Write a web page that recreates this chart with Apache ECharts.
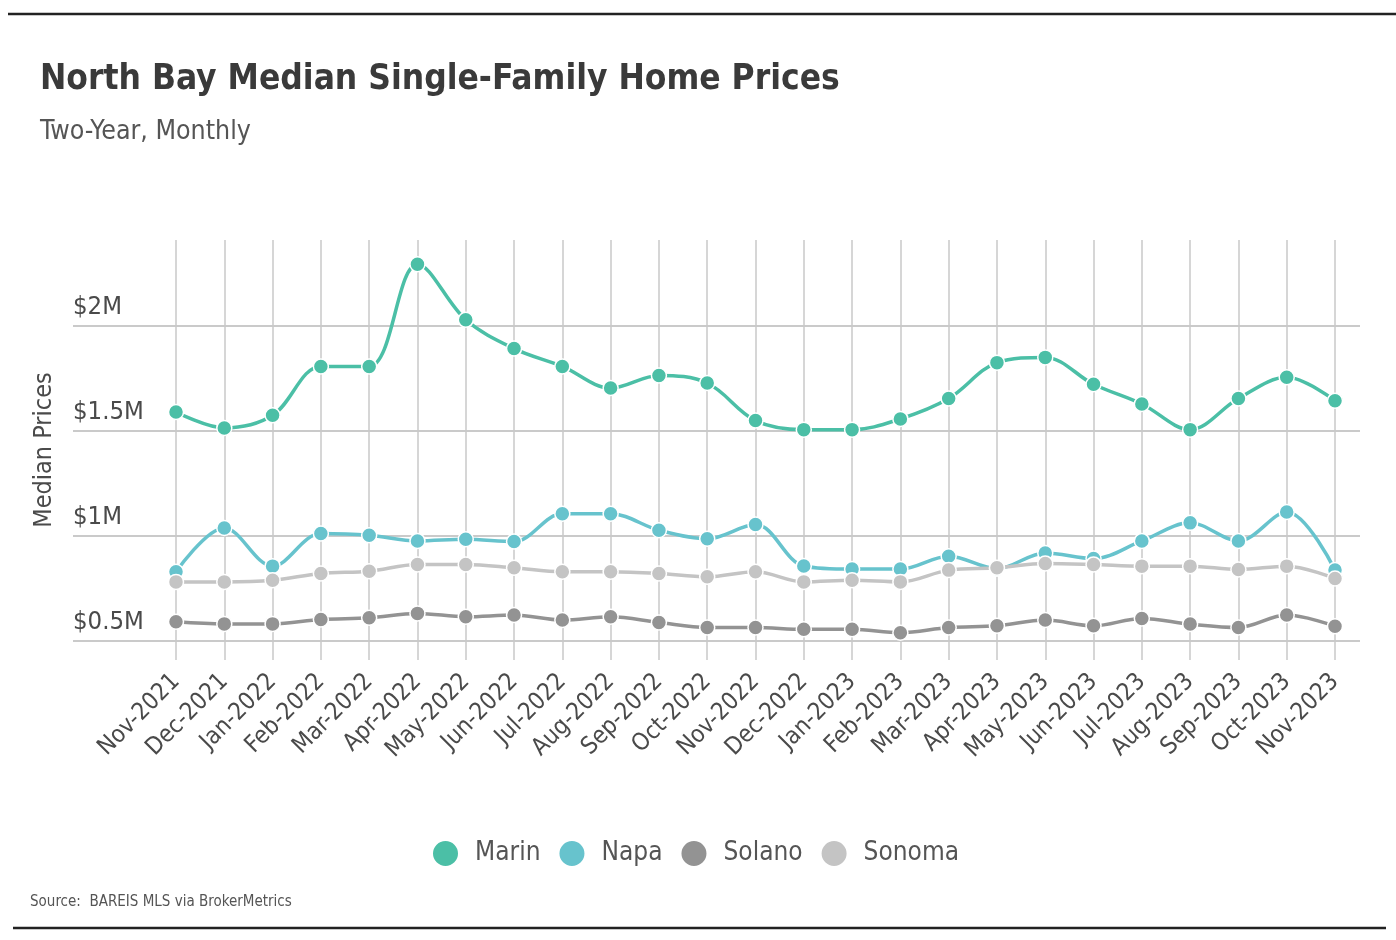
<!DOCTYPE html>
<html>
<head>
<meta charset="utf-8">
<script src="https://cdn.jsdelivr.net/npm/echarts@6/dist/echarts.min.js"></script>
<style>
html,body{margin:0;padding:0;background:#fff;}
#chart{width:1396px;height:940px;}
</style>
</head>
<body>
<div id="chart"></div>
<script>
const categories = ['Nov-2021','Dec-2021','Jan-2022','Feb-2022','Mar-2022','Apr-2022','May-2022','Jun-2022','Jul-2022','Aug-2022','Sep-2022','Oct-2022','Nov-2022','Dec-2022','Jan-2023','Feb-2023','Mar-2023','Apr-2023','May-2023','Jun-2023','Jul-2023','Aug-2023','Sep-2023','Oct-2023','Nov-2023'];
const marin  = [1591000,1515000,1575000,1808000,1808000,2295000,2030000,1893000,1808000,1705000,1765000,1729000,1550000,1507000,1507000,1558000,1655000,1826000,1851000,1723000,1629000,1507000,1655000,1756000,1645000];
const napa   = [830000,1039000,857000,1012000,1004000,977000,985000,974000,1106000,1106000,1028000,987000,1055000,858000,843000,843000,904000,845000,920000,893000,977000,1063000,977000,1115000,838000];
const solano = [592000,582000,582000,603000,611000,632000,616000,624000,600000,616000,589000,565000,565000,556000,556000,540000,565000,573000,600000,573000,608000,581000,565000,624000,571000];
const sonoma = [782000,782000,790000,822000,833000,865000,865000,849000,830000,830000,822000,806000,830000,782000,790000,782000,838000,849000,870000,865000,857000,857000,841000,857000,798000];
const seriesNames = ['Marin','Napa','Solano','Sonoma'];
const yTicks = [500000, 1000000, 1500000, 2000000];

const colors = ['#4bbfa6','#67c3cd','#939393','#c4c4c4'];
const FONT = '"DejaVu Sans Condensed", "Liberation Sans Narrow", sans-serif';

const chart = echarts.init(document.getElementById('chart'), null, {renderer:'canvas'});
const dataSets = [marin, napa, solano, sonoma];

const option = {
  backgroundColor: '#fff',
  animation: false,
  color: colors,
  title: [
    {
      text: 'North Bay Median Single-Family Home Prices',
      subtext: 'Two-Year, Monthly',
      left: 35, top: 57,
      itemGap: 22,
      textStyle: {fontFamily: FONT, fontSize: 35, fontWeight: 'bold', color: '#3a3a3a'},
      subtextStyle: {fontFamily: FONT, fontSize: 26.5, color: '#555'}
    },
    {
      text: 'Source:  BAREIS MLS via BrokerMetrics',
      left: 25, top: 890,
      textStyle: {fontFamily: FONT, fontSize: 15, fontWeight: 'normal', color: '#555'}
    }
  ],
  legend: {
    data: seriesNames,
    left: 426, top: 834,
    icon: 'circle',
    itemWidth: 27, itemHeight: 27,
    itemGap: 17,
    textStyle: {fontFamily: FONT, fontSize: 26, color: '#555', padding: [0,0,0,11]}
  },
  graphic: [
    {type:'line', shape:{x1:8, y1:14, x2:1396, y2:14}, style:{stroke:'#222', lineWidth:2.5}},
    {type:'line', shape:{x1:13, y1:928, x2:1386, y2:928}, style:{stroke:'#222', lineWidth:2.5}}
  ],
  grid: [
    {left: 73, right: 36, top: 326, bottom: 299},
    {left: 176, right: 61, top: 240, bottom: 280}
  ],
  xAxis: [
    {type: 'value', gridIndex: 0, show: false, min: 0, max: 1},
    {
      type: 'category', gridIndex: 1, data: categories, boundaryGap: false,
      axisLine: {show: false}, axisTick: {show: false},
      splitLine: {show: true, lineStyle: {color: '#c8c8c8', width: 1.5}},
      axisLabel: {rotate: 45, margin: 18, fontFamily: FONT, fontSize: 24, color: '#4a4a4a', interval: 0}
    }
  ],
  yAxis: [
    {
      type: 'value', gridIndex: 0, min: yTicks[0], max: yTicks[yTicks.length-1], interval: 500000,
      axisLine: {show: false}, axisTick: {show: false},
      splitLine: {show: true, lineStyle: {color: '#b8b8b8', width: 1.5}},
      axisLabel: {
        inside: true, align: 'left', verticalAlign: 'bottom', margin: 0,
        padding: [0,0,6,0],
        fontFamily: FONT, fontSize: 25.5, color: '#4a4a4a',
        formatter: v => '$' + (v/1e6) + 'M'
      }
    },
    {
      type: 'value', gridIndex: 1, min: 410000, max: 2410000,
      name: 'Median Prices', nameLocation: 'middle', nameGap: 119,
      nameTextStyle: {fontFamily: FONT, fontSize: 25, color: '#4a4a4a'},
      axisLine: {show: false}, axisTick: {show: false}, axisLabel: {show: false},
      splitLine: {show: false}
    }
  ],
  series: seriesNames.map((n, i) => ({
    name: n, type: 'line', xAxisIndex: 1, yAxisIndex: 1,
    data: dataSets[i],
    smooth: 0.35,
    symbol: 'circle', symbolSize: 15,
    lineStyle: {width: 3.5, color: colors[i]},
    itemStyle: {color: colors[i], borderColor: '#fff', borderWidth: 1.5},
    clip: false
  }))
};
chart.setOption(option);
</script>
</body>
</html>
